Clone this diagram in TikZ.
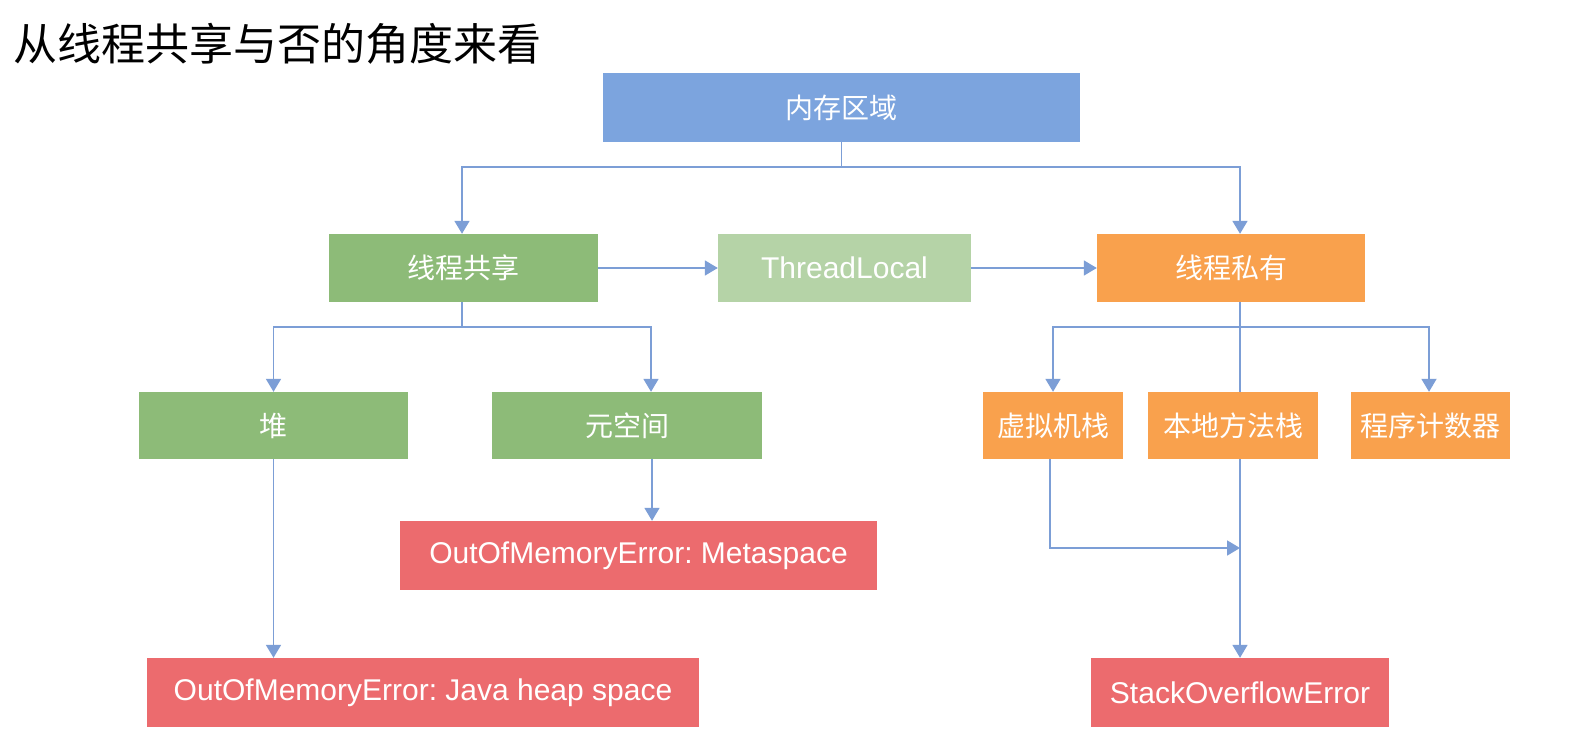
\documentclass[tikz,border=0pt]{standalone}
\usepackage{fontspec}
\setmainfont{Liberation Sans}
\newfontfamily\cjk{Noto Sans CJK SC}
\usepackage{tikz}
\usetikzlibrary{arrows.meta,calc}
\usepackage{xcolor}
\definecolor{memblue}{HTML}{7CA4DE}
\definecolor{shgreen}{HTML}{8DBB78}
\definecolor{tlgreen}{HTML}{B5D3A7}
\definecolor{prorange}{HTML}{F9A14D}
\definecolor{errred}{HTML}{EC6B6E}
\definecolor{linkblue}{HTML}{7C9ED6}
\frenchspacing

\begin{document}
\begin{tikzpicture}[x=1pt,y=-1pt,
  box/.style={inner sep=0pt, text=white, minimum height=68pt,
              font=\cjk\fontsize{28}{32}\selectfont},
  latin/.style={font=\fontsize{30}{36}\selectfont},
  ln/.style={draw=linkblue, line width=1.8pt},
  ar/.style={ln, -{Triangle[length=13pt,width=15pt]}}]
\useasboundingbox[fill=white] (0,0) rectangle (1583,754);
\node[anchor=west, inner sep=0pt, font=\cjk\fontsize{44}{50}\selectfont] (title) at (13,44) {从线程共享与否的角度来看};
\node[box, fill=memblue, minimum width=477pt, minimum height=69pt] (mem) at (841.5,107.5) {内存区域};
\node[box, fill=shgreen, minimum width=269pt] (shared) at (463.5,268) {线程共享};
\node[box, latin, fill=tlgreen, minimum width=253pt] (tlocal) at (844.5,268) {ThreadLocal};
\node[box, fill=prorange, minimum width=268pt] (private) at (1231,268) {线程私有};
\node[box, fill=shgreen, minimum width=269pt, minimum height=67pt] (heap) at (273.5,425.5) {堆};
\node[box, fill=shgreen, minimum width=270pt, minimum height=67pt] (meta) at (627,425.5) {元空间};
\node[box, fill=prorange, minimum width=140pt, minimum height=67pt] (vmstack) at (1053,425.5) {虚拟机栈};
\node[box, fill=prorange, minimum width=170pt, minimum height=67pt] (natstack) at (1233,425.5) {本地方法栈};
\node[box, fill=prorange, minimum width=159pt, minimum height=67pt] (pcount) at (1430.5,425.5) {程序计数器};
\node[box, latin, fill=errred, minimum width=477pt, minimum height=69pt] (oommeta) at (638.5,555.5) {OutOfMemoryError: Metaspace};
\node[box, latin, fill=errred, minimum width=552pt, minimum height=69pt] (oomheap) at (423,692.5) {OutOfMemoryError: Java heap space};
\node[box, latin, fill=errred, minimum width=298pt, minimum height=69pt] (soerr) at (1240,692.5) {StackOverflowError};
% joints of the tree
\coordinate (topjoin) at (841.5,167);
\coordinate (shjoin) at (462,327);
\coordinate (prjoin) at (1240,327);
\coordinate (vmjoin) at (1240,548);
\draw[ln] (mem) -- (topjoin);
\draw[ar] (topjoin) -| ([xshift=-1.5pt]shared.north);
\draw[ar] (topjoin) -| ([xshift=9pt]private.north);
\draw[ar] (shared) -- (tlocal);
\draw[ar] (tlocal) -- (private);
\draw[ln] ([xshift=-1.5pt]shared.south) -- (shjoin);
\draw[ar] (shjoin) -| (heap);
\draw[ar] (shjoin) -| ([xshift=24pt]meta.north);
\draw[ar] (heap) -- (heap.south |- oomheap.north);
\draw[ar] ([xshift=25pt]meta.south) -- ([xshift=25pt]meta.south |- oommeta.north);
\draw[ln] ([xshift=9pt]private.south) -- ([xshift=7pt]natstack.north);
\draw[ar] (prjoin) -| (vmstack);
\draw[ar] (prjoin) -| ([xshift=-1.5pt]pcount.north);
\draw[ar] ([xshift=-3pt]vmstack.south) |- (vmjoin);
\draw[ar] ([xshift=7pt]natstack.south) -- (soerr);
\end{tikzpicture}
\end{document}
